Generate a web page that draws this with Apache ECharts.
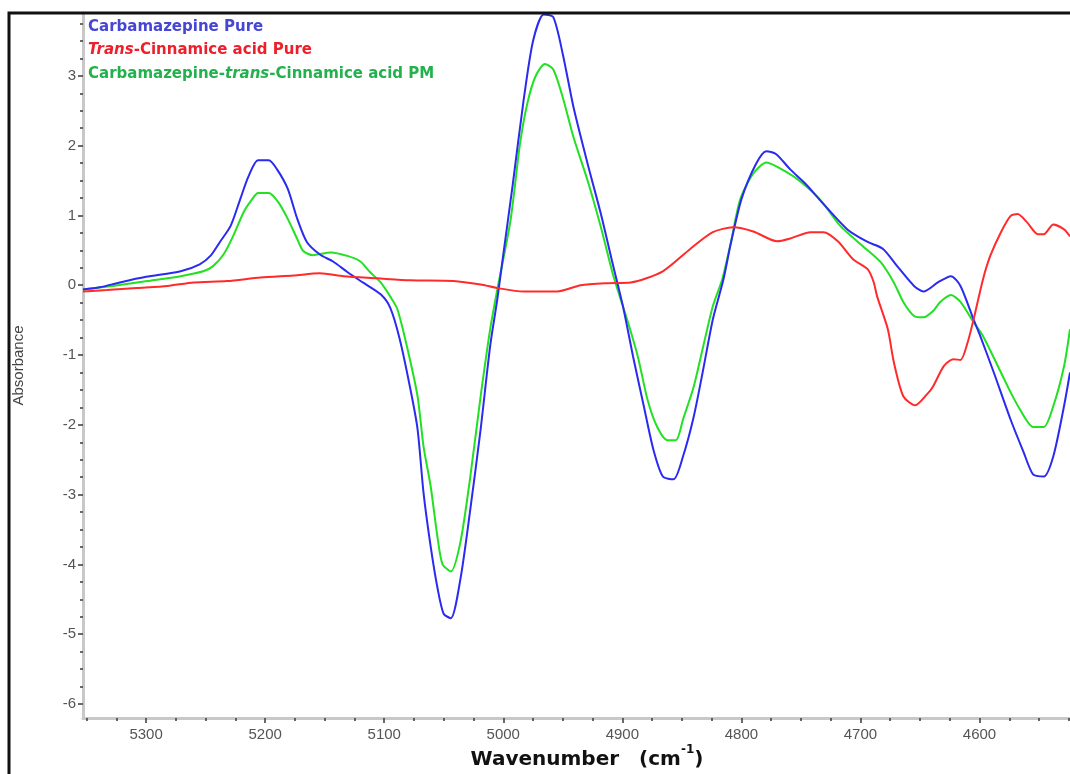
<!DOCTYPE html>
<html>
<head>
<meta charset="utf-8">
<title>NIR second-derivative spectra</title>
<script src="https://cdn.jsdelivr.net/npm/echarts@6/dist/echarts.min.js"></script>
<style>
  html, body { margin: 0; padding: 0; background: #ffffff; }
  #chart { width: 1070px; height: 774px; }
</style>
</head>
<body>
<div id="chart"></div>
<script>
// Spectral data: wavenumber (cm-1) and absorbance for each sample
const cbzWn  = [5353,5339,5322,5300,5271,5255,5246,5238,5229,5221,5214,5206,5197,5190,5181,5173,5165,5154,5143,5131,5118,5103,5095,5087,5078,5072,5067,5061,5055,5050,5044,5036,5028,5019,5011,5005,5000,4992,4983,4975,4966,4958,4950,4941,4929,4918,4908,4899,4891,4882,4874,4866,4857,4849,4840,4832,4824,4815,4809,4800,4788,4779,4771,4759,4746,4734,4711,4694,4681,4669,4655,4647,4635,4624,4616,4605,4600,4588,4574,4563,4555,4546,4538,4529,4524];
const cbzAbs = [-0.06,-0.03,0.04,0.12,0.2,0.3,0.42,0.62,0.85,1.23,1.56,1.79,1.79,1.66,1.38,0.95,0.62,0.44,0.34,0.19,0.04,-0.13,-0.32,-0.77,-1.49,-2.06,-2.97,-3.74,-4.36,-4.71,-4.77,-4.21,-3.25,-2.06,-0.87,-0.2,0.44,1.45,2.64,3.5,3.88,3.84,3.31,2.55,1.73,1.02,0.3,-0.34,-1.02,-1.73,-2.35,-2.74,-2.78,-2.45,-1.88,-1.2,-0.49,0.09,0.59,1.23,1.73,1.92,1.88,1.66,1.45,1.22,0.8,0.62,0.52,0.27,-0.01,-0.09,0.04,0.13,-0.01,-0.49,-0.7,-1.25,-1.92,-2.39,-2.71,-2.74,-2.45,-1.73,-1.25];

const tcaWn  = [5353,5333,5308,5282,5260,5232,5204,5176,5154,5134,5106,5078,5042,5019,5005,4983,4955,4935,4913,4893,4866,4843,4824,4807,4790,4770,4759,4742,4731,4719,4706,4694,4689,4686,4677,4672,4664,4654,4644,4639,4630,4622,4616,4610,4605,4597,4591,4582,4574,4568,4560,4551,4546,4538,4529,4524];
const tcaAbs = [-0.09,-0.07,-0.04,-0.01,0.04,0.06,0.11,0.14,0.17,0.13,0.1,0.07,0.06,0.01,-0.04,-0.09,-0.09,0.0,0.03,0.04,0.2,0.52,0.76,0.83,0.77,0.63,0.67,0.76,0.76,0.63,0.37,0.23,0.05,-0.16,-0.63,-1.1,-1.59,-1.72,-1.56,-1.45,-1.16,-1.06,-1.07,-0.82,-0.49,0.09,0.42,0.76,0.99,1.02,0.9,0.73,0.73,0.87,0.8,0.7];

const pmWn  = [5353,5328,5299,5271,5252,5244,5235,5227,5218,5211,5206,5197,5189,5181,5173,5168,5160,5145,5131,5120,5112,5103,5095,5089,5081,5072,5067,5061,5055,5051,5044,5036,5028,5019,5011,5005,4994,4986,4980,4973,4965,4958,4950,4941,4929,4918,4908,4902,4896,4887,4879,4871,4862,4855,4849,4840,4832,4824,4816,4809,4801,4790,4779,4763,4750,4734,4717,4698,4683,4672,4664,4655,4647,4639,4633,4624,4616,4605,4597,4582,4574,4566,4555,4546,4538,4529,4524];
const pmAbs = [-0.06,-0.01,0.06,0.13,0.2,0.27,0.44,0.7,1.05,1.23,1.32,1.32,1.19,0.95,0.66,0.49,0.43,0.47,0.42,0.34,0.19,0.04,-0.16,-0.34,-0.87,-1.59,-2.31,-2.88,-3.64,-4.0,-4.1,-3.68,-2.78,-1.59,-0.63,-0.06,0.92,2.02,2.59,2.99,3.17,3.09,2.69,2.12,1.49,0.83,0.16,-0.17,-0.49,-1.02,-1.63,-2.02,-2.22,-2.22,-1.92,-1.45,-0.87,-0.3,0.09,0.6,1.23,1.6,1.76,1.63,1.48,1.23,0.85,0.56,0.33,0.04,-0.24,-0.44,-0.46,-0.37,-0.24,-0.14,-0.24,-0.53,-0.73,-1.25,-1.53,-1.78,-2.03,-2.03,-1.73,-1.16,-0.63];

// Tick positions
const xMajorTicks = [5300,5200,5100,5000,4900,4800,4700,4600];
const xMinorTicks = [5350,5325,5275,5250,5225,5175,5150,5125,5075,5050,5025,4975,4950,4925,4875,4850,4825,4775,4750,4725,4675,4650,4625,4575,4550,4525];
const yMajorTicks = [-6,-5,-4,-3,-2,-1,0,1,2,3];
const yMinorTicks = [-5.75,-5.5,-5.25,-4.75,-4.5,-4.25,-3.75,-3.5,-3.25,-2.75,-2.5,-2.25,-1.75,-1.5,-1.25,-0.75,-0.5,-0.25,0.25,0.5,0.75,1.25,1.5,1.75,2.25,2.5,2.75,3.25,3.5,3.75];

const X_MIN = 4524, X_MAX = 5353;
const Y_MIN = -6.2, Y_MAX = 3.9;

const pairs = (xs, ys) => xs.map((x, i) => [x, ys[i]]);

const labelFont = '"Liberation Sans", Arial, sans-serif';
const boldFont = '"DejaVu Sans", sans-serif';
const axisGray = '#c8c8c8';
const tickDark = '#3a3a3a';

const chart = echarts.init(document.getElementById('chart'), null, { renderer: 'canvas' });

const baseX = {
  type: 'value', inverse: true, min: X_MIN, max: X_MAX, position: 'bottom',
  splitLine: { show: false }
};
const baseY = {
  type: 'value', min: Y_MIN, max: Y_MAX, position: 'left',
  splitLine: { show: false }
};

chart.setOption({
  animation: false,
  backgroundColor: '#ffffff',
  grid: { left: 83, right: 0, top: 13, bottom: 56, containLabel: false },
  xAxis: [
    Object.assign({}, baseX, {
      axisLine: { show: true, onZero: false, lineStyle: { color: axisGray, width: 3 } },
      axisTick: { show: true, customValues: xMajorTicks, length: 5, lineStyle: { color: tickDark, width: 1.5 } },
      axisLabel: {
        show: true, customValues: xMajorTicks, color: '#555555', fontSize: 15, fontFamily: labelFont, margin: 9,
        formatter: v => String(v)
      }
    }),
    Object.assign({}, baseX, {
      axisLine: { show: false, onZero: false },
      axisTick: { show: true, customValues: xMinorTicks, length: 3, lineStyle: { color: tickDark, width: 1.5 } },
      axisLabel: { show: false }
    })
  ],
  yAxis: [
    Object.assign({}, baseY, {
      name: 'Absorbance',
      nameLocation: 'middle',
      nameGap: 57,
      nameRotate: 90,
      nameTextStyle: { color: '#444444', fontSize: 15, fontFamily: labelFont },
      axisLine: { show: true, onZero: false, lineStyle: { color: axisGray, width: 3 } },
      axisTick: { show: true, customValues: yMajorTicks, length: 5, lineStyle: { color: tickDark, width: 1.5 } },
      axisLabel: {
        show: true, customValues: yMajorTicks, color: '#555555', fontSize: 15, fontFamily: labelFont, margin: 7,
        formatter: v => String(v)
      }
    }),
    Object.assign({}, baseY, {
      axisLine: { show: false, onZero: false },
      axisTick: { show: true, customValues: yMinorTicks, length: 3, lineStyle: { color: tickDark, width: 1.5 } },
      axisLabel: { show: false }
    })
  ],
  series: [
    {
      name: 'Carbamazepine-trans-Cinnamice acid PM', type: 'line', xAxisIndex: 0, yAxisIndex: 0,
      data: pairs(pmWn, pmAbs), showSymbol: false, smooth: 0.25,
      lineStyle: { color: '#22e022', width: 2 }, z: 2
    },
    {
      name: 'Carbamazepine Pure', type: 'line', xAxisIndex: 0, yAxisIndex: 0,
      data: pairs(cbzWn, cbzAbs), showSymbol: false, smooth: 0.25,
      lineStyle: { color: '#2a2af0', width: 2 }, z: 3
    },
    {
      name: 'Trans-Cinnamice acid Pure', type: 'line', xAxisIndex: 0, yAxisIndex: 0,
      data: pairs(tcaWn, tcaAbs), showSymbol: false, smooth: 0.25,
      lineStyle: { color: '#ff2a2a', width: 2 }, z: 4
    }
  ],
  graphic: [
    // frame along the left and top edges
    {
      type: 'polyline', z: 100,
      shape: { points: [[9, 780], [9, 13], [1080, 13]] },
      style: { stroke: '#111111', lineWidth: 3, fill: null }
    },
    // key
    {
      type: 'text', left: 88, top: 20, z: 100,
      style: { text: 'Carbamazepine Pure', fill: '#4646d6', font: 'bold 15px "DejaVu Sans", sans-serif' }
    },
    {
      type: 'text', left: 88, top: 43, z: 100,
      style: {
        text: '{i|Trans}{n|-Cinnamice acid Pure}',
        rich: {
          i: { fill: '#ee1f2b', fontStyle: 'italic', fontWeight: 'bold', fontSize: 15, fontFamily: boldFont },
          n: { fill: '#ee1f2b', fontWeight: 'bold', fontSize: 15, fontFamily: boldFont }
        }
      }
    },
    {
      type: 'text', left: 88, top: 67, z: 100,
      style: {
        text: '{n|Carbamazepine-}{i|trans}{n|-Cinnamice acid PM}',
        rich: {
          i: { fill: '#22b14c', fontStyle: 'italic', fontWeight: 'bold', fontSize: 15, fontFamily: boldFont },
          n: { fill: '#22b14c', fontWeight: 'bold', fontSize: 15, fontFamily: boldFont }
        }
      }
    },
    // x axis title
    {
      type: 'text', x: 587, y: 757, z: 100,
      style: {
        text: '{t|Wavenumber\u3000(cm}{s|-1}{t|)}',
        align: 'center', verticalAlign: 'middle',
        rich: {
          t: { fill: '#111111', fontWeight: 'bold', fontSize: 20, fontFamily: boldFont, lineHeight: 26, verticalAlign: 'bottom' },
          s: { fill: '#111111', fontWeight: 'bold', fontSize: 12, fontFamily: boldFont, verticalAlign: 'top', lineHeight: 26 }
        }
      }
    }
  ]
});
</script>
</body>
</html>
